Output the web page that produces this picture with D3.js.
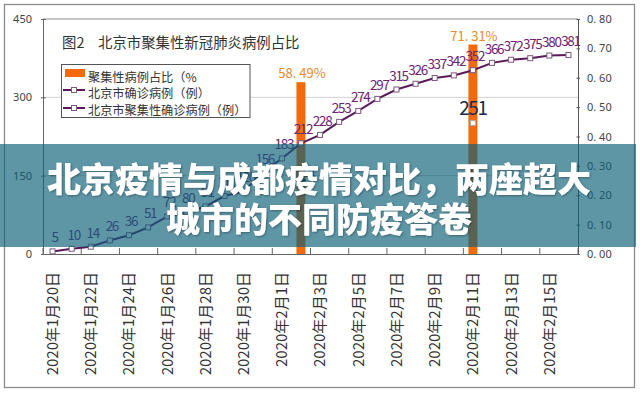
<!DOCTYPE html>
<html>
<head>
<meta charset="utf-8">
<script src="https://cdn.jsdelivr.net/npm/d3@7"></script>
<style>
	body{margin:0;background:#fff;}
	#chart-box{width:640px;height:393px;}
</style>
</head>
<body>
<div id="chart-box"></div>
<script>
// Categories, one per day
const dates=["2020年1月20日","2020年1月21日","2020年1月22日","2020年1月23日","2020年1月24日","2020年1月25日","2020年1月26日",
	"2020年1月27日","2020年1月28日","2020年1月29日","2020年1月30日","2020年1月31日","2020年2月1日","2020年2月2日",
	"2020年2月3日","2020年2月4日","2020年2月5日","2020年2月6日","2020年2月7日","2020年2月8日","2020年2月9日",
	"2020年2月10日","2020年2月11日","2020年2月12日","2020年2月13日","2020年2月14日","2020年2月15日","2020年2月16日"];
// Labelled dates on x axis
const tickDates=["2020年1月20日","2020年1月22日","2020年1月24日","2020年1月26日","2020年1月28日","2020年1月30日","2020年2月1日",
	"2020年2月3日","2020年2月5日","2020年2月7日","2020年2月9日","2020年2月11日","2020年2月13日","2020年2月15日"];
// 北京市确诊病例
const totalCases=[5,10,14,26,36,51,72,80,91,111,120,156,183,212,228,253,274,297,315,326,337,342,352,366,372,375,380,381];
// 聚集性病例占比 and 聚集性确诊病例
const ratioDates=["2020年2月2日","2020年2月11日"];
const ratioValues=[0.5849,0.7131];
const ratioLabels=["58. 49%","71. 31%"];
const clusterValues=[124,251];
// Axis ticks
const leftTicks=[0,150,300,450];
const rightTicks=[0,0.1,0.2,0.3,0.4,0.5,0.6,0.7,0.8];
// Texts
const legendLabels=["聚集性病例占比（%","北京市确诊病例（例）","北京市聚集性确诊病例（例）"];
const chartTitle=["图2","北京市聚集性新冠肺炎病例占比"];
const bannerLines=["北京疫情与成都疫情对比，两座超大","城市的不同防疫答卷"];

const chartDrawer=
{
	draw: function ()
	{
		const w=640;
		const h=393;
		const left=43, right=578, top=19, bottom=254;
		const cjk="'Noto Sans CJK SC', sans-serif";
		const lineColor="#5a1a5a";
		const barColor="#f26a0c";

		const svg=d3.select("#chart-box")
		.append("svg")
		.attr("width",w)
		.attr("height",h)
		.style("background","#fff");

		// Scales
		const xScale=d3.scaleBand()
		 .domain(dates)
		 .range([left,right])
		 .padding(0);
		const bw=xScale.bandwidth();
		const cx=(d)=> xScale(d)+bw/2;
		const yLeft=d3.scaleLinear()
		 .domain([0,450])
		 .range([bottom,top]);
		const yRight=d3.scaleLinear()
		 .domain([0,0.8])
		 .range([bottom,top]);

		// Outer frame
		svg.append("rect")
		 .attr("x",4.5).attr("y",4.5)
		 .attr("width",630).attr("height",383)
		 .attr("fill","none")
		 .attr("stroke","#8c8c8c")
		 .attr("stroke-width",1.3);

		// Grid lines
		svg.selectAll(".grid")
		 .data(leftTicks.slice(1))
		 .enter()
		 .append("line")
		 .attr("class","grid")
		 .attr("x1",left).attr("x2",right)
		 .attr("y1",(d)=> yLeft(d)).attr("y2",(d)=> yLeft(d))
		 .attr("stroke",(d)=> d==450 ? "#8c8c8c" : "#d2d2d2");

		// Left axis
		const gLeft=svg.append("g")
		 .attr("transform","translate("+left+",0)")
		 .call(d3.axisLeft(yLeft).tickValues(leftTicks).tickSizeOuter(0));
		gLeft.select(".domain").attr("stroke","#666");
		gLeft.selectAll(".tick line").attr("x1",3).attr("x2",-2).attr("stroke","#666");
		gLeft.selectAll(".tick text")
		 .attr("x",-11)
		 .attr("font-size",11)
		 .attr("font-family","'Noto Sans', sans-serif")
		 .attr("fill","#444");

		// Right axis
		const gRight=svg.append("g")
		 .attr("transform","translate("+right+",0)")
		 .call(d3.axisRight(yRight).tickValues(rightTicks).tickSizeOuter(0)
		 	.tickFormat((d)=> d.toFixed(2).replace(".",". ")));
		gRight.select(".domain").attr("stroke","#555");
		gRight.selectAll(".tick line").attr("x1",-1.5).attr("x2",2).attr("stroke","#555");
		gRight.selectAll(".tick text")
		 .attr("x",9)
		 .attr("font-size",11)
		 .attr("font-family","'Noto Sans', sans-serif")
		 .attr("fill","#444");

		// Bottom axis
		const gBottom=svg.append("g")
		 .attr("transform","translate(0,"+bottom+")")
		 .call(d3.axisBottom(xScale).tickValues(tickDates).tickSize(0).tickSizeOuter(0));
		gBottom.select(".domain").attr("stroke","#666");
		gBottom.selectAll(".tick text")
		 .attr("transform","rotate(-90)")
		 .attr("x",-18)
		 .attr("y",0)
		 .attr("dy","0.36em")
		 .style("text-anchor","end")
		 .attr("font-size",15)
		 .attr("font-family",cjk)
		 .attr("fill","#333");
		// tick marks between categories
		svg.selectAll(".xtick")
		 .data(tickDates.concat([null]))
		 .enter()
		 .append("line")
		 .attr("class","xtick")
		 .attr("x1",(d)=> d ? xScale(d) : right)
		 .attr("x2",(d)=> d ? xScale(d) : right)
		 .attr("y1",bottom-6).attr("y2",bottom)
		 .attr("stroke","#666");

		// Bars
		svg.selectAll(".bar")
		 .data(ratioValues)
		 .enter()
		 .append("rect")
		 .attr("class","bar")
		 .attr("x",(d,i)=> cx(ratioDates[i])-4.5)
		 .attr("width",9)
		 .attr("y",(d)=> yRight(d))
		 .attr("height",(d)=> bottom-yRight(d))
		 .style("fill",barColor);
		svg.selectAll(".barlabel")
		 .data(ratioValues)
		 .enter()
		 .append("text")
		 .attr("class","barlabel")
		 .attr("x",(d,i)=> cx(ratioDates[i])+1)
		 .attr("y",(d)=> yRight(d)-4)
		 .attr("text-anchor","middle")
		 .attr("font-size",13)
		 .attr("font-family",cjk)
		 .attr("fill","#e8892c")
		 .text((d,i)=> ratioLabels[i]);

		// Confirmed cases line
		const line=d3.line()
		 .x((d,i)=> cx(dates[i]))
		 .y((d)=> yLeft(d));
		svg.append("path")
		 .datum(totalCases)
		 .attr("d",line)
		 .attr("fill","none")
		 .attr("stroke",lineColor)
		 .attr("stroke-width",2);
		svg.selectAll(".pt")
		 .data(totalCases)
		 .enter()
		 .append("rect")
		 .attr("class","pt")
		 .attr("x",(d,i)=> cx(dates[i])-2.5)
		 .attr("y",(d)=> yLeft(d)-2.5)
		 .attr("width",5).attr("height",5)
		 .attr("fill","#fff")
		 .attr("stroke","#7a5a7e");
		svg.selectAll(".ptlabel")
		 .data(totalCases)
		 .enter()
		 .append("text")
		 .attr("class","ptlabel")
		 .attr("x",(d,i)=> cx(dates[i])+2)
		 .attr("y",(d)=> yLeft(d)-9)
		 .attr("text-anchor","middle")
		 .attr("font-size",13.5)
		 .attr("letter-spacing",-1.3)
		 .attr("font-family",cjk)
		 .attr("fill","#6e2278")
		 .text((d)=> d);

		// Cluster cases points
		svg.selectAll(".cpt")
		 .data(clusterValues)
		 .enter()
		 .append("rect")
		 .attr("class","cpt")
		 .attr("x",(d,i)=> cx(ratioDates[i])-2.5)
		 .attr("y",(d)=> yLeft(d)-2.5)
		 .attr("width",5).attr("height",5)
		 .attr("fill","#fff")
		 .attr("stroke","#aaa");
		svg.selectAll(".cptlabel")
		 .data(clusterValues)
		 .enter()
		 .append("text")
		 .attr("class","cptlabel")
		 .attr("x",(d,i)=> cx(ratioDates[i]))
		 .attr("y",(d)=> yLeft(d)-8)
		 .attr("text-anchor","middle")
		 .attr("font-size",19)
		 .attr("letter-spacing",-1.5)
		 .attr("font-family",cjk)
		 .attr("fill","#1b2a44")
		 .text((d)=> d);

		// Title
		const title=svg.append("text")
		 .attr("y",48)
		 .attr("font-size",14.4)
		 .attr("font-family",cjk)
		 .attr("fill","#333");
		title.append("tspan").attr("x",62).text(chartTitle[0]);
		title.append("tspan").attr("x",98).text(chartTitle[1]);

		// Legend
		this.drawLegend(svg,cjk,lineColor,barColor);

		// Banner over the chart
		this.drawBanner(svg,cjk);
	},
	drawLegend: function (svg,font,lineColor,barColor)
	{
		const lg=svg.append("g");
		lg.append("rect")
		 .attr("x",61.5).attr("y",64.5)
		 .attr("width",188.5).attr("height",53)
		 .attr("fill","#fff")
		 .attr("stroke","#555");
		lg.append("rect")
		 .attr("x",65).attr("y",69)
		 .attr("width",20).attr("height",8)
		 .attr("fill",barColor);
		const rows=[90,108];
		rows.forEach((y)=>
		{
			lg.append("line")
			 .attr("x1",63).attr("x2",85)
			 .attr("y1",y).attr("y2",y)
			 .attr("stroke",lineColor)
			 .attr("stroke-width",2);
			lg.append("rect")
			 .attr("x",71.5).attr("y",y-2.5)
			 .attr("width",5).attr("height",5)
			 .attr("fill","#fff")
			 .attr("stroke","#7a5a7e");
		});
		lg.selectAll(".lgtext")
		 .data(legendLabels)
		 .enter()
		 .append("text")
		 .attr("class","lgtext")
		 .attr("x",88)
		 .attr("y",(d,i)=> [81.5,98,114.5][i])
		 .attr("font-size",12.2)
		 .attr("font-family",font)
		 .attr("fill","#333")
		 .text((d)=> d);
	},
	drawBanner: function (svg,font)
	{
		const defs=svg.append("defs");
		defs.append("filter")
		 .attr("id","shadow")
		 .append("feDropShadow")
		 .attr("dx",1).attr("dy",1)
		 .attr("stdDeviation",1)
		 .attr("flood-color","#000")
		 .attr("flood-opacity",0.35);
		svg.append("rect")
		 .attr("x",0).attr("y",144)
		 .attr("width",636).attr("height",103)
		 .attr("fill","rgb(10,95,120)")
		 .attr("opacity",0.66);
		svg.selectAll(".banner")
		 .data(bannerLines)
		 .enter()
		 .append("text")
		 .attr("class","banner")
		 .attr("x",319)
		 .attr("y",(d,i)=> 177+i*40)
		 .attr("dominant-baseline","central")
		 .attr("text-anchor","middle")
		 .attr("font-size",34)
		 .attr("font-weight",900)
		 .attr("font-family",font)
		 .attr("fill","#fff")
		 .attr("filter","url(#shadow)")
		 .text((d)=> d);
	}
};

document.addEventListener("DOMContentLoaded", function(event)
{
	chartDrawer.draw();
});
</script>
</body>
</html>
